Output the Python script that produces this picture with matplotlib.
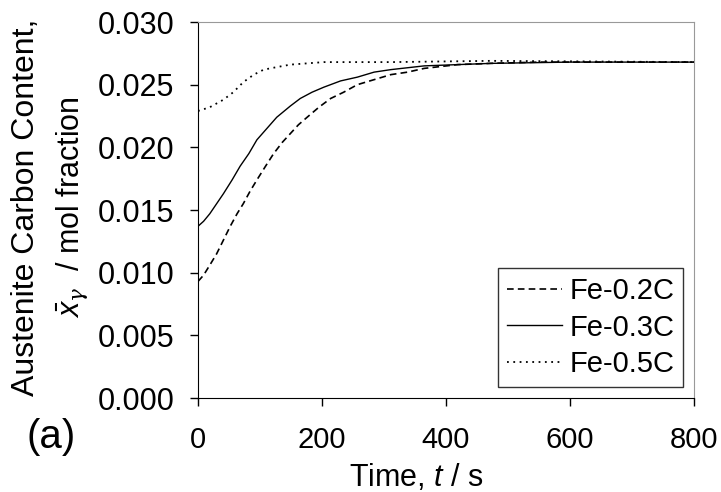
import matplotlib
matplotlib.use("Agg")
import matplotlib.pyplot as plt

plt.rcParams['font.family'] = ['Liberation Sans', 'DejaVu Sans']
plt.rcParams['mathtext.fontset'] = 'custom'
plt.rcParams['mathtext.it'] = 'Liberation Sans:italic'
plt.rcParams['mathtext.rm'] = 'Liberation Sans'
plt.rcParams['mathtext.sf'] = 'DejaVu Serif:italic'

# curves (time in s, carbon in mol fraction)
t_02 = [0, 9, 19, 30, 41, 52, 63, 73, 84, 95, 109, 122, 136, 149, 162, 176, 195,
        214, 235, 257, 284, 311, 338, 365, 419, 473, 550, 650, 800]
x_02 = [0.0093, 0.0098, 0.0106, 0.0115, 0.0126, 0.0137, 0.0147, 0.0155, 0.0165,
        0.0174, 0.0185, 0.0195, 0.0204, 0.0211, 0.0218, 0.0224, 0.0232, 0.0239,
        0.0244, 0.0250, 0.0254, 0.0258, 0.0260, 0.0263, 0.0266, 0.0267, 0.0268,
        0.0268, 0.0268]

t_03 = [0, 9, 19, 30, 41, 55, 68, 82, 95, 111, 127, 149, 165, 184, 203, 230, 257,
        284, 311, 365, 419, 473, 600, 800]
x_03 = [0.0137, 0.0141, 0.0147, 0.0155, 0.0163, 0.0174, 0.0185, 0.0195, 0.0206,
        0.0215, 0.0224, 0.0233, 0.0239, 0.0244, 0.0248, 0.0253, 0.0256, 0.0260,
        0.0262, 0.0265, 0.0266, 0.0267, 0.0268, 0.0268]

t_05 = [0, 19, 41, 57, 73, 90, 106, 127, 149, 203, 311, 473, 800]
x_05 = [0.0229, 0.0232, 0.0238, 0.0244, 0.0252, 0.0258, 0.0262, 0.0264, 0.0266,
        0.0268, 0.0268, 0.0269, 0.0268]

fig = plt.figure(figsize=(7.21, 4.92), dpi=100)
ax = fig.add_axes([198/721, 94/492, 496/721, 376/492])

ax.plot(t_02, x_02, color='black', lw=1.2, linestyle=(0, (4, 2.5)), label='Fe-0.2C')
ax.plot(t_03, x_03, color='black', lw=1.0, linestyle='-', label='Fe-0.3C')
ax.plot(t_05, x_05, color='black', lw=1.3, linestyle=(0, (1, 2.5)), label='Fe-0.5C')

ax.set_xlim(0, 800)
ax.set_ylim(0, 0.030)
ax.set_xticks([0, 200, 400, 600, 800])
ax.set_yticks([0.0, 0.005, 0.010, 0.015, 0.020, 0.025, 0.030])
ax.yaxis.set_major_formatter(matplotlib.ticker.FormatStrFormatter('%.3f'))
ax.tick_params(direction='out', length=6, width=1, labelsize=22)
ax.tick_params(axis='y', pad=11)
ax.tick_params(axis='x', pad=14, labelsize=21)

for s in ['top', 'right']:
    ax.spines[s].set_color('#999999')
ax.spines['left'].set_color('black')
ax.spines['bottom'].set_color('black')

ax.set_xlabel('Time, $t$ / s', fontsize=22)
ax.xaxis.set_label_coords((416 - 198) / 496, (398 - 486) / 376)
ax.xaxis.label.set_va('baseline')

fig.text(26/721, 0.579, 'Austenite Carbon Content,', rotation=90, fontsize=23,
         ha='center', va='center')
fig.text(72/721, 0.579, r'$\bar{x}_{\mathsf{\gamma}}$  / mol fraction', rotation=90,
         fontsize=22, ha='center', va='center')
fig.text(51/721, 1 - 437/492, '(a)', fontsize=29, ha='center', va='center')

leg = ax.legend(loc='lower right', fontsize=21, frameon=True, fancybox=False,
                edgecolor='black', handlelength=1.9, handletextpad=0.25,
                borderpad=0.3, labelspacing=0.3, borderaxespad=0,
                bbox_to_anchor=(0.978, 0.029))
leg.get_frame().set_linewidth(1.0)

fig.savefig('out.png', dpi=100)
